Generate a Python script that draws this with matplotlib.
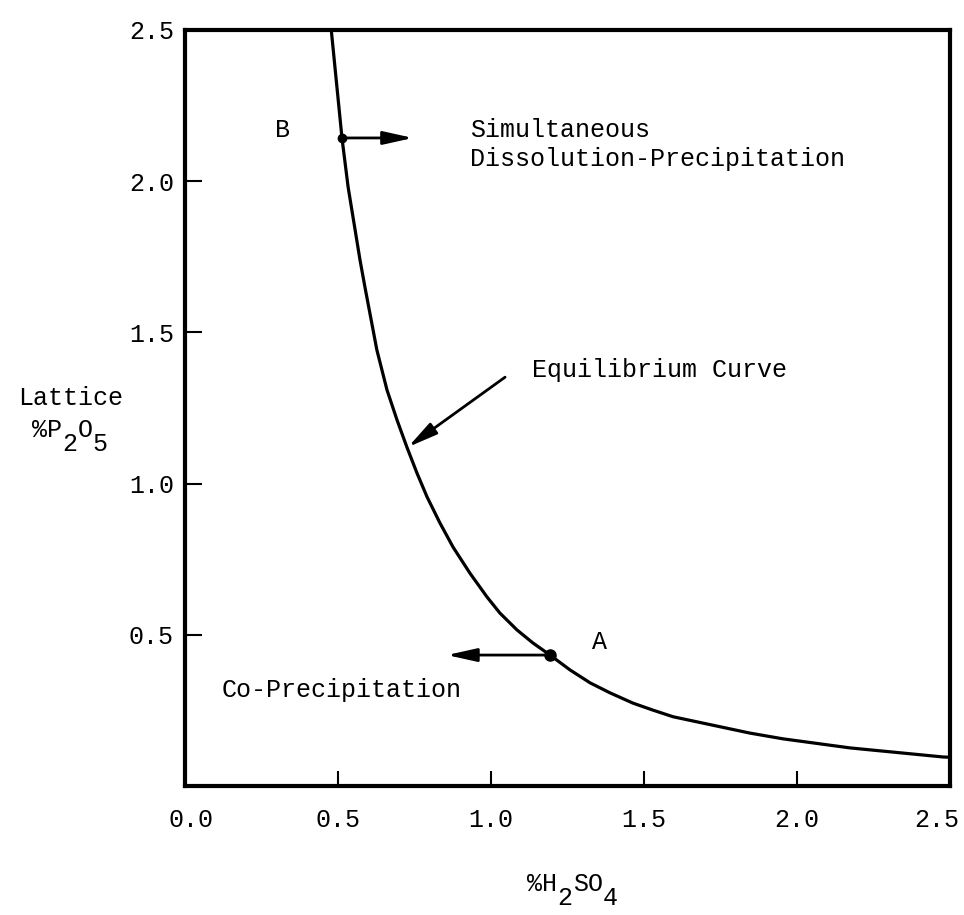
import matplotlib
matplotlib.use("Agg")
import matplotlib.pyplot as plt
from matplotlib.transforms import ScaledTranslation

# equilibrium curve
curve_x = [0.478, 0.513, 0.533, 0.572, 0.588, 0.627, 0.660, 0.693, 0.725,
           0.758, 0.791, 0.833, 0.876, 0.931, 0.987, 1.029, 1.085, 1.137, 1.193,
           1.258, 1.324, 1.389, 1.464, 1.529, 1.595, 1.739, 1.846, 1.954, 2.173,
           2.477, 2.5]
curve_y = [2.5, 2.143, 1.981, 1.739, 1.650, 1.442, 1.310, 1.210, 1.121,
           1.035, 0.956, 0.870, 0.790, 0.704, 0.625, 0.572, 0.516, 0.473, 0.433,
           0.384, 0.341, 0.308, 0.274, 0.251, 0.229, 0.198, 0.175, 0.156, 0.126,
           0.096, 0.095]

point_b = (0.513, 2.143)
point_a = (1.193, 0.433)
arrow_b_end = 0.745
arrow_a_end = 0.856
eq_arrow_tail = (1.046, 1.352)
eq_arrow_tip = (0.729, 1.121)

x_ticks = [0.0, 0.5, 1.0, 1.5, 2.0, 2.5]
x_labels = ["0.0", "0.5", "1.0", "1.5", "2.0", "2.5"]
y_ticks = [0.5, 1.0, 1.5, 2.0, 2.5]
y_labels = ["0.5", "1.0", "1.5", "2.0", "2.5"]

FONT = "Liberation Mono"
FS = 18
CHAR_W = 15.2   # px per character at FS, monospace
plt.rcParams["font.family"] = [FONT, "DejaVu Sans"]

W, H = 964, 915
fig = plt.figure(figsize=(W / 100, H / 100), dpi=100)
ax = fig.add_axes([185 / W, 1 - 786 / H, 765 / W, 756 / H])


def typed(x_px, y_px, chars, subs):
    # typewriter style: subscripts are full size, just dropped a line
    for i, ch in enumerate(chars):
        dy = 14 if i in subs else 0
        fig.text((x_px + i * CHAR_W) / W, 1 - (y_px + dy) / H, ch,
                 fontsize=FS, ha="left", va="center")


ax.plot(curve_x, curve_y, color="black", lw=2.3, solid_capstyle="butt")
ax.plot(*point_b, "o", color="black", ms=6)
ax.plot(*point_a, "o", color="black", ms=8)

arrow_style = dict(arrowstyle="-|>,head_length=0.9,head_width=0.2",
                   color="black", lw=2, mutation_scale=20, shrinkA=0, shrinkB=0)
ax.annotate("", xy=(arrow_b_end, point_b[1]), xytext=point_b, arrowprops=arrow_style)
ax.annotate("", xy=(arrow_a_end, point_a[1]), xytext=point_a, arrowprops=arrow_style)
ax.annotate("", xy=eq_arrow_tip, xytext=eq_arrow_tail, arrowprops=arrow_style)

ax.text(0.32, 2.17, "B", fontsize=FS, ha="center", va="center")
ax.text(1.356, 0.476, "A", fontsize=FS, ha="center", va="center")
ax.text(0.93, 2.17, "Simultaneous", fontsize=FS, ha="left", va="center")
ax.text(0.93, 2.075, "Dissolution-Precipitation", fontsize=FS, ha="left", va="center")
ax.text(1.134, 1.376, "Equilibrium Curve", fontsize=FS, ha="left", va="center")
ax.text(0.121, 0.317, "Co-Precipitation", fontsize=FS, ha="left", va="center")

ax.set_xlim(0, 2.5)
ax.set_ylim(0, 2.5)
ax.set_xticks(x_ticks)
ax.set_xticklabels(x_labels)
ax.set_yticks(y_ticks)
ax.set_yticklabels(y_labels)
ax.tick_params(axis="x", direction="in", length=11, width=1.5, pad=16, labelsize=FS)
ax.tick_params(axis="y", direction="in", length=12, width=1.5, pad=8, labelsize=FS)
for sp in ax.spines.values():
    sp.set_linewidth(3)

# the end labels sit a little inside the box in the original
xl = ax.get_xticklabels()
xl[0].set_transform(xl[0].get_transform() + ScaledTranslation(6 / 100, 0, fig.dpi_scale_trans))
xl[-1].set_transform(xl[-1].get_transform() + ScaledTranslation(-13 / 100, 0, fig.dpi_scale_trans))

fig.text(71 / W, 1 - 398 / H, "Lattice", fontsize=FS, ha="center", va="center")
typed(32, 430, "%P2O5", {2, 4})
typed(527, 884, "%H2SO4", {2, 5})

fig.savefig("out.png", dpi=100)
